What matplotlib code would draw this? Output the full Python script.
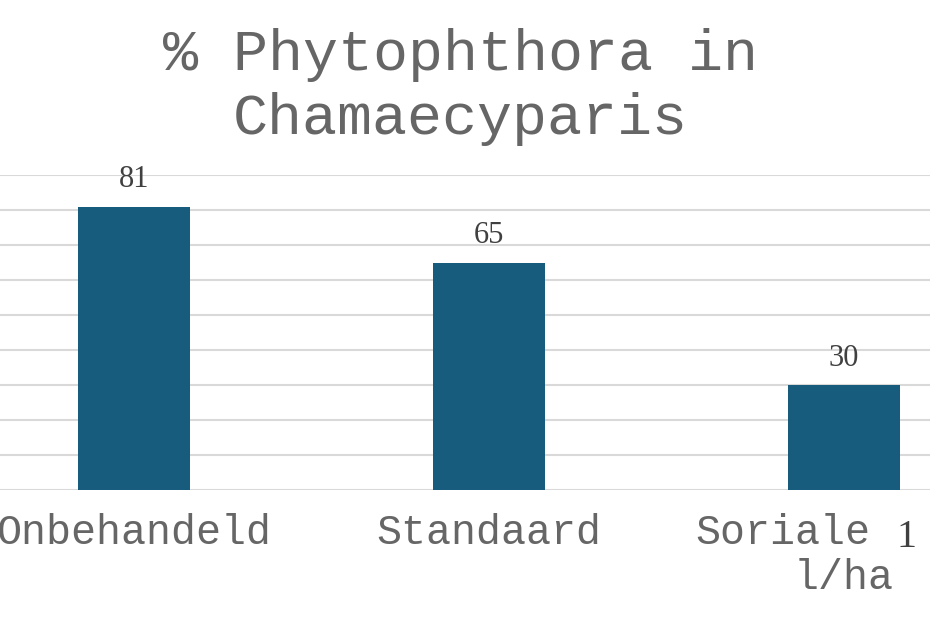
import matplotlib
matplotlib.use("Agg")
import matplotlib.pyplot as plt

# --- data ---
categories = ["Onbehandeld", "Standaard", "Soriale 1 l/ha"]
values = [81, 65, 30]
title = "% Phytophthora in\nChamaecyparis"

BAR_COLOR = "#175c7c"
GRID_COLOR = "#d9d9d9"
TEXT_GRAY = "#666666"
MONO = "Liberation Mono"
SERIF = "Liberation Serif"

fig = plt.figure(figsize=(9.3, 6.2), dpi=100)
# axes is wider than the figure: the reference is a crop of a larger chart
ax = fig.add_axes([-43.5 / 930, 1 - 490 / 620, 1065 / 930, 315 / 620])

x = list(range(len(categories)))
ax.bar(x, values, width=0.313, color=BAR_COLOR, zorder=3)

ax.set_xlim(-0.5, 2.5)
ax.set_ylim(0, 90)
ax.set_yticks(range(0, 91, 10))
ax.yaxis.grid(True, color=GRID_COLOR, linewidth=1.5, zorder=0)
ax.tick_params(left=False, bottom=False, labelleft=False, labelbottom=False)
for side in ["top", "right", "left", "bottom"]:
    ax.spines[side].set_visible(False)

# value labels above the bars
for xi, v in zip(x, values):
    ax.annotate(str(v), (xi, v), xytext=(0, 9), textcoords="offset points",
                ha="center", va="bottom", fontsize=22, family=SERIF,
                color="#404040")

# category labels (baseline about 55 px under the axis)
lab_kw = dict(textcoords="offset points", va="baseline", fontsize=30,
              family=MONO, color=TEXT_GRAY, annotation_clip=False)
ax.annotate(categories[0], (0, 0), xytext=(0, -39), ha="center", **lab_kw)
ax.annotate(categories[1], (1, 0), xytext=(0, -39), ha="center", **lab_kw)
first, second = categories[2].split(" 1 ")
ax.annotate(first, (2, 0), xytext=(-107, -39), ha="left", **lab_kw)
ax.annotate("1", (2, 0), xytext=(38, -41), ha="left", va="baseline",
            fontsize=29, family=SERIF, color="#404040",
            textcoords="offset points", annotation_clip=False)
ax.annotate(second, (2, 0), xytext=(0, -71), ha="center", **lab_kw)

fig.text(0.495, 0.955, title, ha="center", va="top", fontsize=42,
         family=MONO, color=TEXT_GRAY, linespacing=1.25)

fig.savefig("out.png", dpi=100)
